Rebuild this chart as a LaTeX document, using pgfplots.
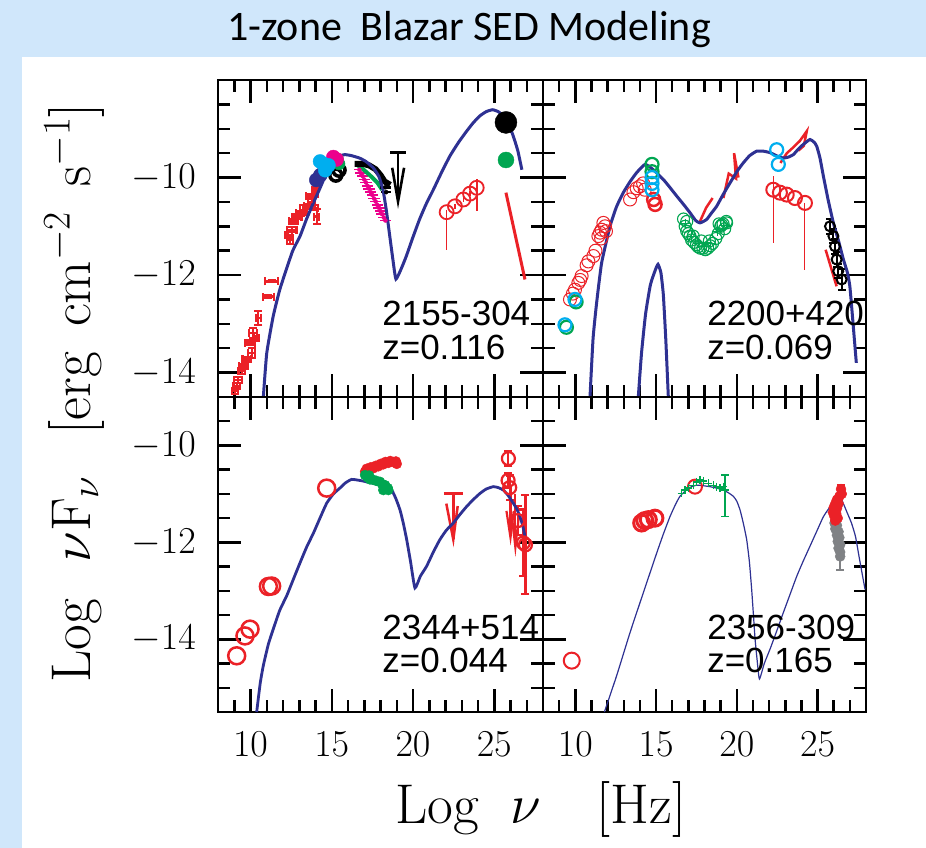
\RequirePackage{fix-cm}
\documentclass[border=0pt]{standalone}
\usepackage{fontspec}
\usepackage{pgfplots}
\pgfplotsset{compat=1.18}
\newfontfamily\calibri{Carlito}
\newfontfamily\arialfont{Liberation Sans}
\definecolor{bgblue}{RGB}{208,231,251}
\definecolor{sednavy}{RGB}{46,49,146}
\definecolor{sedred}{RGB}{235,33,39}
\definecolor{sedgreen}{RGB}{0,166,81}
\definecolor{sedcyan}{RGB}{0,174,239}
\definecolor{sedmag}{RGB}{236,0,140}
\definecolor{sedgray}{RGB}{128,130,133}
\tikzset{sedtext/.style={font=\arialfont\fontsize{35}{38}\selectfont, anchor=base west, inner sep=0pt}}
\pgfplotsset{
 panel/.style={
  scale only axis,
  xmin=8, xmax=28,
  xtick={10,15,20,25},
  minor xtick={8,9,...,28},
  ytick={-14,-12,-10},
  minor ytick={-15.5,-15,...,-8},
  tick align=inside, tick pos=both,
  axis line style={line width=2.6pt, black},
  tick style={line width=2.5pt, black},
  major tick length=23pt, minor tick length=12pt,
  tick label style={font=\fontsize{38}{40}\selectfont, inner sep=0pt},
  yticklabel style={xshift=-22pt},
  xticklabel style={yshift=-20pt},
 },
 ebxy/.style={error bars/.cd, x dir=both, x explicit, y dir=both, y explicit,
   error bar style={line width=#1}, error mark options={rotate=90, mark size=4pt, line width=#1}},
 eby/.style={error bars/.cd, y dir=both, y explicit,
   error bar style={line width=#1}, error mark=none},
 ebyc/.style={error bars/.cd, y dir=both, y explicit,
   error bar style={line width=#1}, error mark options={rotate=90, mark size=4pt, line width=#1}},
 ebx/.style={error bars/.cd, x dir=both, x explicit,
   error bar style={line width=#1}, error mark=none},
}
\begin{document}
\begin{tikzpicture}
\useasboundingbox (0,0) rectangle (926pt,-848pt);
\fill[bgblue] (0,0) rectangle (926pt,-848pt);
\fill[white] (22pt,-57pt) rectangle (926pt,-848pt);
\node[font=\calibri\fontsize{42}{46}\selectfont, anchor=base] at (469pt,-41pt) {1-zone\hspace{0.45em}Blazar SED Modeling};

% ---------------- Panel A: 2155-304 ----------------
\begin{axis}[panel, at={(218pt,-397pt)}, anchor=south west, width=325pt, height=317pt,
  ymin=-14.5, ymax=-8, xticklabels={}, major tick length=23pt, minor tick length=12pt]
\addplot[sedred, only marks, mark=*, mark size=1pt, ebxy=2.2pt] table[x=x, y=y, x error=ex, y error=ey] {
x y ex ey
9.05 -14.38 0.2 0.06
9.15 -14.28 0.2 0.06
9.25 -14.15 0.25 0.06
9.46 -13.97 0.2 0.06
9.56 -13.87 0.25 0.05
9.76 -13.73 0.25 0.05
10.07 -13.6 0.2 0.1
9.97 -13.39 0.3 0.05
10.17 -13.19 0.25 0.1
10.35 -13.3 0.15 0.05
10.48 -12.88 0.15 0.15
11.1 -12.44 0.35 0.02
11.3 -12.13 0.4 0.02
12.43 -11.27 0.2 0.1
12.33 -11.17 0.2 0.05
12.53 -11.07 0.3 0.05
12.64 -10.9 0.25 0.05
12.84 -10.8 0.3 0.05
13.05 -10.73 0.25 0.05
13.25 -10.66 0.2 0.1
13.56 -10.59 0.25 0.05
13.76 -10.5 0.2 0.1
13.66 -10.38 0.25 0.05
13.97 -10.3 0.15 0.1
14.07 -10.8 0.15 0.15
13.9 -10.62 0.25 0.05
};
% optical/UV coloured points
\addplot[black, only marks, mark=o, mark size=6pt, line width=3.5pt] coordinates {(15.25,-9.95) (15.45,-9.85)};
\addplot[sedgreen, only marks, mark=*, mark size=6pt] coordinates {(15.35,-9.62) (15.45,-9.72)};
\addplot[sedmag, only marks, mark=*, mark size=7pt] coordinates {(15.1,-9.58) (15.3,-9.63)};
\addplot[sednavy, only marks, mark=*, mark size=7pt] coordinates {(14.05,-10.05) (14.3,-9.95)};
\addplot[sedcyan, only marks, mark=*, mark size=7pt] coordinates {(14.28,-9.67) (14.5,-9.72) (14.6,-9.85) (14.8,-9.75)};
% X-ray spectra
\addplot[sedmag, only marks, mark=none, ebx=1.5pt] table[x=x, y=y, x error=ex] {
x y ex
16.70 -9.84 0.35
16.80 -9.91 0.35
16.90 -9.97 0.35
17.00 -10.04 0.35
17.10 -10.10 0.35
17.20 -10.17 0.35
17.30 -10.23 0.35
17.40 -10.30 0.35
17.50 -10.36 0.35
17.60 -10.43 0.35
17.70 -10.49 0.35
17.80 -10.56 0.35
17.90 -10.62 0.35
18.00 -10.69 0.35
18.10 -10.75 0.35
18.20 -10.82 0.35
18.30 -10.88 0.35
};
\addplot[sedgreen, line width=4pt] coordinates {(16.6,-9.75) (17.0,-9.85) (17.4,-9.97) (17.8,-10.1) (18.1,-10.25)};
\addplot[black, line width=6pt] coordinates {(16.4,-9.72) (16.9,-9.72) (17.3,-9.75) (17.7,-9.83) (18.0,-9.95) (18.25,-10.08) (18.6,-10.15)};
\addplot[black, only marks, mark=none, ebx=2.5pt] table[x=x, y=y, x error=ex] {
x y ex
18.3 -10.2 0.35
18.35 -10.3 0.3
};
% upper limit
\addplot[black, line width=2.6pt] coordinates {(18.6,-9.49) (19.55,-9.49)};
\addplot[black, line width=2.6pt] coordinates {(19.08,-9.49) (19.08,-10.49)};
\addplot[black, line width=2.6pt] coordinates {(18.72,-9.8) (19.08,-10.49) (19.45,-9.8)};
% gamma-ray points
\addplot[sedred, only marks, mark=o, mark size=7pt, line width=1.8pt, eby=1.6pt] coordinates {
(22.07,-10.71) += (0,0.05) -= (0,0.77)
(22.58,-10.59) += (0,0.05) -= (0,0.05)
(23.10,-10.45) += (0,0.05) -= (0,0.05)
(23.51,-10.33) += (0,0.05) -= (0,0.05)
(23.92,-10.21) += (0,0.17) -= (0,0.48)
};
\addplot[black, only marks, mark=*, mark size=11pt] coordinates {(25.72,-8.87)};
\addplot[sedgreen, only marks, mark=*, mark size=8pt] coordinates {(25.72,-9.64)};
\addplot[sedred, line width=3pt] coordinates {(25.72,-10.31) (26.89,-12.09)};
% model
\addplot[sednavy, line width=3pt, smooth, tension=0.3] coordinates {
(10.79,-14.5) (11.0,-13.6) (11.4,-12.84) (11.8,-12.3) (12.2,-11.89) (12.6,-11.5)
(13.05,-11.2) (13.45,-10.85) (13.87,-10.52) (14.3,-10.2) (14.69,-9.90) (15.1,-9.7)
(15.5,-9.56) (15.8,-9.53) (16.2,-9.55) (16.7,-9.6) (17.1,-9.67) (17.55,-9.8)
(17.9,-9.98) (18.15,-10.25) (18.35,-10.65) (18.55,-11.15) (18.75,-11.65) (18.95,-12.08)
(19.3,-11.85) (19.6,-11.6) (20.0,-11.22) (20.4,-10.86) (20.8,-10.55) (21.25,-10.25)
(21.75,-9.9) (22.27,-9.56) (22.8,-9.28) (23.3,-9.05) (23.7,-8.88) (24.1,-8.74)
(24.5,-8.65) (24.9,-8.61) (25.25,-8.65) (25.56,-8.74) (25.9,-8.92) (26.17,-9.15)
(26.45,-9.45) (26.7,-9.84)
};
\node[sedtext] at (rel axis cs:0.505,0.227) {2155-304};
\node[sedtext] at (rel axis cs:0.505,0.117) {z=0.116};
\end{axis}

% ---------------- Panel B: 2200+420 ----------------
\begin{axis}[panel, at={(543pt,-397pt)}, anchor=south west, width=323pt, height=317pt,
  ymin=-14.5, ymax=-8, xticklabels={}, yticklabels={}, major tick length=23pt, minor tick length=12pt]
\addplot[sedred, only marks, mark=o, mark size=6.5pt, line width=1pt] coordinates {
(9.67,-12.5) (9.85,-12.38) (9.98,-12.3) (10.19,-12.16) (10.3,-12.1) (10.39,-12.02)
(10.7,-11.8) (10.81,-11.72) (11.12,-11.61) (11.25,-11.5) (11.43,-11.2) (11.53,-11.13)
(11.63,-11.07) (11.84,-11.0) (11.74,-10.93) (11.9,-11.1) (11.6,-11.25)
(13.39,-10.45) (13.6,-10.3) (13.8,-10.22) (14.0,-10.18) (14.2,-10.12) (14.3,-10.25)
};
\addplot[sedred, only marks, mark=o, mark size=6.5pt, line width=2.5pt] coordinates {(14.85,-10.45) (14.94,-10.55)};
\addplot[sedgreen, only marks, mark=o, mark size=6.5pt, line width=2.2pt] coordinates {(9.45,-13.07) (10.05,-12.55) (14.75,-9.73) (14.75,-9.88)};
\addplot[sedcyan, only marks, mark=o, mark size=6.5pt, line width=2.2pt] coordinates {(9.36,-13.02) (9.98,-12.5) (14.75,-10.0) (14.75,-10.12) (14.75,-10.25) (22.47,-9.43) (22.57,-9.73)};
% X-ray cluster
\addplot[sedgreen, only marks, mark=o, mark size=6pt, line width=1.1pt] coordinates {
(16.7,-10.85) (16.8,-11.0) (16.9,-11.1) (17.0,-11.15) (17.1,-11.2) (17.2,-11.28)
(17.35,-11.33) (17.5,-11.38) (17.6,-11.42) (17.75,-11.45) (17.9,-11.45) (18.05,-11.48)
(18.2,-11.45) (18.35,-11.4) (18.5,-11.35) (18.7,-11.25) (18.85,-11.15) (19.0,-11.0)
(19.15,-10.95) (19.25,-11.05) (19.35,-10.9) (18.9,-10.95) (17.3,-11.2) (17.8,-11.3)
(18.3,-11.3) (16.9,-10.9) (19.06,-10.97) (19.37,-10.93)
};
\addplot[sedgreen, only marks, mark=+, mark size=5pt, line width=1pt] coordinates {
(16.8,-10.95) (17.2,-11.2) (17.6,-11.35) (18.0,-11.42) (18.4,-11.35) (18.8,-11.1) (19.2,-10.98)
};
% red spectra
\addplot[sedred, line width=2.5pt] coordinates {(17.72,-10.9) (18.1,-10.62) (18.5,-10.42)};
\addplot[sedred, line width=2.5pt] coordinates {(19.17,-10.42) (19.5,-9.92) (19.95,-10.02) (19.83,-9.5) (20.1,-10.0)};
\addplot[sedred, line width=2.5pt] coordinates {(22.7,-9.7) (23.1,-9.5) (23.5,-9.38) (23.9,-9.25) (24.33,-9.05) (24.15,-9.35) (23.8,-9.45)};
\addplot[sedred, only marks, mark=o, mark size=7pt, line width=2pt, eby=1pt] coordinates {
(22.26,-10.25) += (0,0.28) -= (0,1.09)
(22.67,-10.31) += (0,0) -= (0,0)
(23.09,-10.35) += (0,0) -= (0,0)
(23.60,-10.42) += (0,0) -= (0,0)
(24.22,-10.52) += (0,0) -= (0,1.37)
};
\addplot[sedred, line width=2.5pt] coordinates {(25.5,-11.48) (26.18,-12.23)};
\addplot[black, only marks, mark=o, mark size=5pt, line width=2pt, ebyc=2pt] coordinates {
(25.77,-11.0) +- (0,0.15)
(25.98,-11.2) +- (0,0.15)
(26.08,-11.41) +- (0,0.15)
(26.18,-11.68) +- (0,0.15)
(26.28,-11.92) +- (0,0.15)
(26.49,-12.09) +- (0,0.21)
};
% models
\addplot[sednavy, line width=3pt, smooth, tension=0.3] coordinates {
(13.9,-14.5) (14.1,-13.6) (14.35,-12.8) (14.65,-12.2) (14.95,-11.9) (15.12,-11.78)
(15.3,-11.95) (15.45,-12.4) (15.6,-13.3) (15.76,-14.5)
};
\addplot[sednavy, line width=3pt, smooth, tension=0.3] coordinates {
(10.91,-14.5) (11.1,-13.3) (11.32,-12.57) (11.63,-11.75) (12.15,-11.0) (12.55,-10.6)
(12.97,-10.31) (13.4,-10.08) (13.8,-9.9) (14.32,-9.73) (14.83,-9.84) (15.45,-10.04)
(15.85,-10.2) (16.28,-10.38) (16.7,-10.55) (17.1,-10.72) (17.45,-10.88) (17.72,-10.93)
(18.13,-10.86) (18.45,-10.72) (18.75,-10.59) (19.15,-10.35) (19.58,-10.11) (20.0,-9.88)
(20.4,-9.7) (20.8,-9.55) (21.23,-9.46) (21.65,-9.46) (22.06,-9.49) (22.5,-9.56)
(22.88,-9.6) (23.2,-9.58) (23.5,-9.53) (23.8,-9.42) (24.12,-9.32) (24.53,-9.22)
(24.8,-9.28) (24.95,-9.36) (25.15,-9.6) (25.36,-9.97) (25.65,-10.45) (25.98,-10.93)
(26.3,-11.3) (26.6,-11.68) (26.85,-11.95) (27.0,-12.23) (27.15,-12.8) (27.3,-13.4) (27.4,-13.8)
};
\node[sedtext] at (rel axis cs:0.508,0.227) {2200+420};
\node[sedtext] at (rel axis cs:0.508,0.117) {z=0.069};
\end{axis}

% ---------------- Panel C: 2344+514 ----------------
\begin{axis}[panel, at={(218pt,-712pt)}, anchor=south west, width=325pt, height=315pt,
  ymin=-15.5, ymax=-9, major tick length=23pt, minor tick length=12pt]
\addplot[sedred, only marks, mark=o, mark size=8.5pt, line width=2.5pt] coordinates {
(9.15,-14.34) (9.66,-13.93) (9.97,-13.79) (11.1,-12.91) (11.3,-12.9) (14.69,-10.88)
};
\addplot[sedred, only marks, mark=*, mark size=5pt] coordinates {
(17.05,-10.54) (17.15,-10.48) (17.25,-10.51) (17.4,-10.45) (17.56,-10.47) (17.7,-10.42)
(17.87,-10.43) (18.0,-10.38) (18.17,-10.39) (18.3,-10.34) (18.48,-10.36) (18.6,-10.32)
(18.79,-10.34) (18.95,-10.33) (19.0,-10.38) (17.1,-10.6)
};
\addplot[sedgreen, only marks, mark=*, mark size=5pt] coordinates {
(17.05,-10.61) (17.2,-10.66) (17.35,-10.7) (17.56,-10.71) (17.75,-10.73) (17.97,-10.75)
(18.1,-10.8) (18.28,-10.82) (18.45,-10.88) (18.48,-10.92) (18.17,-10.92) (17.3,-10.62)
};
% upper limit
\addplot[sedred, line width=2.5pt] coordinates {(21.9,-10.99) (23.05,-10.99)};
\addplot[sedred, line width=2.5pt] coordinates {(22.48,-10.99) (22.48,-11.94)};
\addplot[sedred, line width=2.5pt] coordinates {(22.05,-11.2) (22.48,-11.94) (22.75,-11.25)};
% TeV points
\addplot[sedred, only marks, mark=o, mark size=6.5pt, line width=2.2pt, ebyc=2.2pt] coordinates {
(25.87,-10.27) +- (0,0.15)
(25.85,-10.72) +- (0,0.15)
(25.95,-10.87) +- (0,0.25)
(26.45,-11.55) +- (0,0.3)
(26.79,-12.01) +- (0,0.69)
(26.92,-12.05) +- (0,1.02)
};
\addplot[sedred, line width=2.2pt] coordinates {(26.0,-10.9) (26.0,-11.75)};
\addplot[sedred, line width=2.2pt] coordinates {(25.75,-11.35) (26.0,-11.9) (26.2,-11.35)};
\addplot[sedred, line width=2.2pt] coordinates {(26.3,-11.0) (26.3,-11.9)};
\addplot[sedred, line width=2.2pt] coordinates {(26.1,-11.5) (26.3,-12.1) (26.5,-11.5)};
% model
\addplot[sednavy, line width=2.8pt, smooth, tension=0.3] coordinates {
(10.38,-15.5) (10.6,-14.9) (10.79,-14.54) (11.1,-14.1) (11.4,-13.79) (11.8,-13.4)
(12.23,-13.1) (12.65,-12.75) (13.05,-12.42) (13.45,-12.1) (13.87,-11.81) (14.3,-11.48)
(14.69,-11.19) (15.1,-11.0) (15.5,-10.88) (15.85,-10.77) (16.23,-10.7) (16.7,-10.72)
(17.15,-10.75) (17.55,-10.78) (17.97,-10.82) (18.35,-10.86) (18.69,-10.92) (18.95,-11.1)
(19.2,-11.33) (19.4,-11.6) (19.61,-11.94) (19.85,-12.4) (20.12,-12.94) (20.45,-12.7)
(20.84,-12.49) (21.25,-12.2) (21.66,-11.94) (22.05,-11.75) (22.48,-11.6) (22.9,-11.42)
(23.3,-11.26) (23.7,-11.12) (24.12,-10.99) (24.5,-10.9) (24.94,-10.85) (25.25,-10.87)
(25.56,-10.92) (25.85,-11.03) (26.17,-11.19) (26.4,-11.32) (26.58,-11.47) (26.75,-11.65)
(26.89,-11.88)
};
\node[sedtext] at (rel axis cs:0.505,0.229) {2344+514};
\node[sedtext] at (rel axis cs:0.505,0.124) {z=0.044};
\end{axis}

% ---------------- Panel D: 2356-309 ----------------
\begin{axis}[panel, at={(543pt,-712pt)}, anchor=south west, width=323pt, height=315pt,
  ymin=-15.5, ymax=-9, yticklabels={}, major tick length=23pt, minor tick length=12pt]
\addplot[sedred, only marks, mark=o, mark size=8pt, line width=2pt] coordinates {(9.78,-14.44)};
\addplot[sedred, only marks, mark=o, mark size=8pt, line width=3pt] coordinates {(14.11,-11.6) (14.3,-11.55) (14.52,-11.53) (14.93,-11.5)};
\addplot[sedred, only marks, mark=o, mark size=7pt, line width=2pt] coordinates {(17.41,-10.85)};
\addplot[sedgreen, only marks, mark=+, mark size=4pt, line width=1.4pt, ebx=1.2pt] coordinates {
(16.59,-10.99) +- (0.15,0)
(16.79,-10.92) +- (0.15,0)
(17.0,-10.88) +- (0.15,0)
(17.31,-10.82) +- (0.15,0)
(17.51,-10.75) +- (0.15,0)
(17.72,-10.71) +- (0.15,0)
(17.93,-10.73) +- (0.15,0)
(18.24,-10.78) +- (0.15,0)
(18.55,-10.82) +- (0.15,0)
(18.75,-10.85) +- (0.15,0)
(18.96,-10.88) +- (0.15,0)
(19.17,-10.85) +- (0.15,0)
};
\addplot[sedgreen, only marks, mark=+, mark size=4pt, line width=1.4pt, ebyc=1.4pt] coordinates {
(19.27,-10.92) += (0,0.31) -= (0,0.55)
};
\addplot[sedgray, only marks, mark=*, mark size=5pt, ebx=1.2pt] coordinates {
(26.05,-11.6) +- (0.15,0)
(26.2,-11.65) +- (0.15,0)
(26.1,-11.72) +- (0.15,0)
(26.3,-11.78) +- (0.15,0)
(26.2,-11.85) +- (0.15,0)
(26.35,-11.9) +- (0.15,0)
(26.25,-11.98) +- (0.15,0)
(26.4,-12.05) +- (0.15,0)
(26.3,-12.12) +- (0.15,0)
(26.4,-12.2) +- (0.15,0)
};
\addplot[sedgray, only marks, mark=*, mark size=5pt, ebyc=2pt] coordinates {
(26.4,-12.29) += (0,0.05) -= (0,0.27)
};
\addplot[sedred, only marks, mark=*, mark size=5pt, ebx=1.2pt] coordinates {
(26.5,-11.0) +- (0.15,0)
(26.35,-11.05) +- (0.15,0)
(26.2,-11.12) +- (0.15,0)
(26.1,-11.2) +- (0.15,0)
(26.3,-11.2) +- (0.15,0)
(26.0,-11.28) +- (0.15,0)
(26.2,-11.3) +- (0.15,0)
(25.95,-11.38) +- (0.15,0)
(26.15,-11.4) +- (0.15,0)
(26.05,-11.47) +- (0.15,0)
(26.25,-11.5) +- (0.15,0)
(26.1,-11.55) +- (0.15,0)
};
\addplot[sedred, only marks, mark=*, mark size=5pt, ebyc=2pt] coordinates {
(26.45,-10.9) += (0,0.08) -= (0,0.05)
};
% model
\addplot[sednavy, line width=1.2pt, smooth, tension=0.3] coordinates {
(11.8,-15.5) (12.56,-14.75) (13.39,-13.86) (14.21,-13.04) (15.04,-12.22) (15.45,-11.83)
(15.86,-11.47) (16.2,-11.22) (16.48,-11.05) (17.0,-10.88) (17.51,-10.82) (17.9,-10.83)
(18.34,-10.85) (18.75,-10.88) (19.17,-10.92) (19.5,-10.98) (19.79,-11.05) (20.0,-11.15)
(20.2,-11.33) (20.4,-11.6) (20.61,-11.94) (20.78,-12.4) (20.92,-12.97) (21.03,-13.5)
(21.13,-13.99) (21.25,-14.4) (21.4,-14.82) (21.7,-14.5) (22.06,-14.2) (22.47,-13.83)
(22.88,-13.45) (23.3,-13.07) (23.71,-12.7) (24.12,-12.38) (24.53,-12.08) (24.95,-11.77)
(25.36,-11.47) (25.7,-11.3) (25.98,-11.19) (26.2,-11.1) (26.4,-11.05) (26.6,-11.2)
(26.85,-11.4) (27.1,-11.6) (27.35,-11.88) (27.6,-12.35) (27.94,-12.97)
};
\node[sedtext] at (rel axis cs:0.508,0.229) {2356-309};
\node[sedtext] at (rel axis cs:0.508,0.124) {z=0.165};
\end{axis}

\node[rotate=90, anchor=base, font=\fontsize{56}{60}\selectfont] at (90pt,-393pt)
  {Log\hspace{0.65em}$\nu$F$_\nu$\hspace{0.75em}[erg\hspace{0.45em}cm$^{-2}$\hspace{0.45em}s$^{-1}$]};
\node[anchor=base, font=\fontsize{56}{60}\selectfont] at (541pt,-823pt)
  {Log\hspace{0.55em}$\nu$\hspace{1em}[Hz]};
\end{tikzpicture}
\end{document}
